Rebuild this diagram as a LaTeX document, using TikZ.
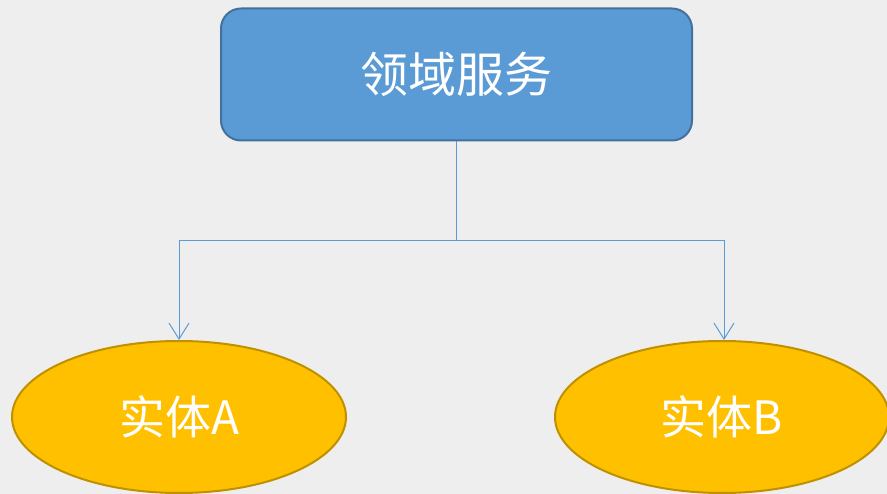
\documentclass[tikz,border=0pt]{standalone}
\usepackage{fontspec}
\newfontfamily\cjk{Noto Sans CJK SC}
\usetikzlibrary{shapes.geometric,arrows.meta}
\definecolor{bg}{HTML}{EEEEEE}
\definecolor{boxfill}{HTML}{5B9BD5}
\definecolor{boxdraw}{HTML}{41719C}
\definecolor{ellfill}{HTML}{FFC000}
\definecolor{elldraw}{HTML}{BF9000}
\tikzset{
  svcbox/.style={draw=boxdraw, fill=boxfill, line width=2pt, rounded corners=20pt, minimum width=471pt, minimum height=132pt, inner sep=0pt, text=white, font=\cjk\fontsize{48}{52}\selectfont},
  entity/.style={ellipse, draw=elldraw, fill=ellfill, line width=2pt, minimum width=334pt, minimum height=152pt, inner sep=0pt, text=white, font=\cjk\fontsize{46}{50}\selectfont},
  conn/.style={draw=boxfill, line width=1pt, -{Straight Barb[length=16pt, width=20pt, line width=1pt]}}
}
\begin{document}
\begin{tikzpicture}[x=1pt,y=1pt]
\fill[bg] (0,0) rectangle (887,-494);
\clip (0,0) rectangle (887,-494);
\useasboundingbox (0,0) rectangle (887,-494);
\node[svcbox] (svc) at (456.5,-74.5) {\raisebox{-3pt}{领域服务}};
\node[entity] (ea) at (179,-417) {\raisebox{-2pt}{实体A}};
\node[entity] (eb) at (722,-417) {\raisebox{-2pt}{实体B}};
\coordinate (j) at (456.5,-241);
\draw[conn] (svc.south) -- (j) -| (ea.north);
\draw[conn] (j) -| ([xshift=2pt]eb.north);
\end{tikzpicture}
\end{document}
